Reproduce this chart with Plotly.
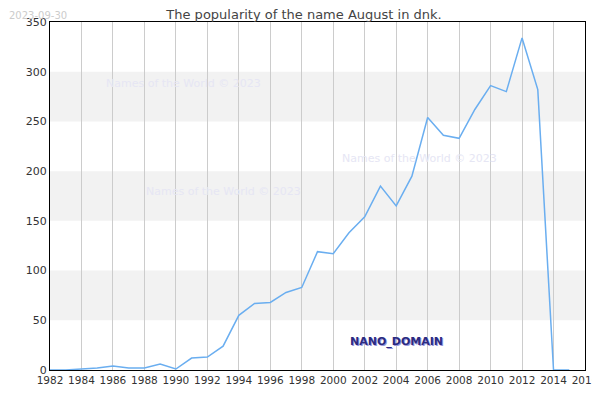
import plotly.graph_objects as go

years = list(range(1982, 2016))
counts = [0, 0, 1, 2, 4, 2, 2, 6, 1, 12, 13, 24, 55, 67, 68, 78, 83, 119, 117,
          138, 154, 185, 165, 195, 254, 236, 233, 262, 286, 280, 334, 282, 0, 0]

fig = go.Figure()
fig.add_trace(go.Scatter(x=years, y=counts, mode="lines",
                         line=dict(color="#6aaef0", width=1.5), hoverinfo="x+y"))

for lo in (50, 150, 250):
    fig.add_hrect(y0=lo, y1=lo + 50, fillcolor="#f2f2f2", line_width=0, layer="below")

wm = dict(color="#e6e6f4", size=11, family="DejaVu Sans")
for x, y in ((1990.5, 288), (2005.5, 213), (1993, 180)):
    fig.add_annotation(x=x, y=y, text="Names of the World © 2023", showarrow=False, font=wm)
fig.add_annotation(x=2004, y=29, text="<b>NANO_DOMAIN</b>", showarrow=False,
                   font=dict(color="#2b2b80", size=11, family="DejaVu Sans",
                             shadow="1px 1px 0 #9999dd"))
fig.add_annotation(xref="paper", yref="paper", x=-0.08, y=1.04, xanchor="left", yanchor="top",
                   text="2023-09-30", showarrow=False,
                   font=dict(color="#cccccc", size=10, family="DejaVu Sans"))

fig.update_layout(
    width=592, height=392, template="none", showlegend=False,
    plot_bgcolor="white", paper_bgcolor="white",
    margin=dict(l=42, r=15, t=14, b=30, autoexpand=False),
    title=dict(text="The popularity of the name August in dnk.", x=0.5, y=0.995,
               font=dict(size=13, color="#444", family="DejaVu Sans")),
    font=dict(family="DejaVu Sans", size=11, color="#333"),
)
fig.update_xaxes(range=[1982, 2016], dtick=2, tick0=1982, showgrid=True, gridcolor="#cccccc",
                 showline=True, linecolor="black", mirror=True, zeroline=False, ticks="",
                 tickfont=dict(size=10.5))
fig.update_yaxes(range=[0, 350], dtick=50, showgrid=False, showline=True,
                 linecolor="black", mirror=True, zeroline=False, ticks="")

fig.write_html("out.html")
